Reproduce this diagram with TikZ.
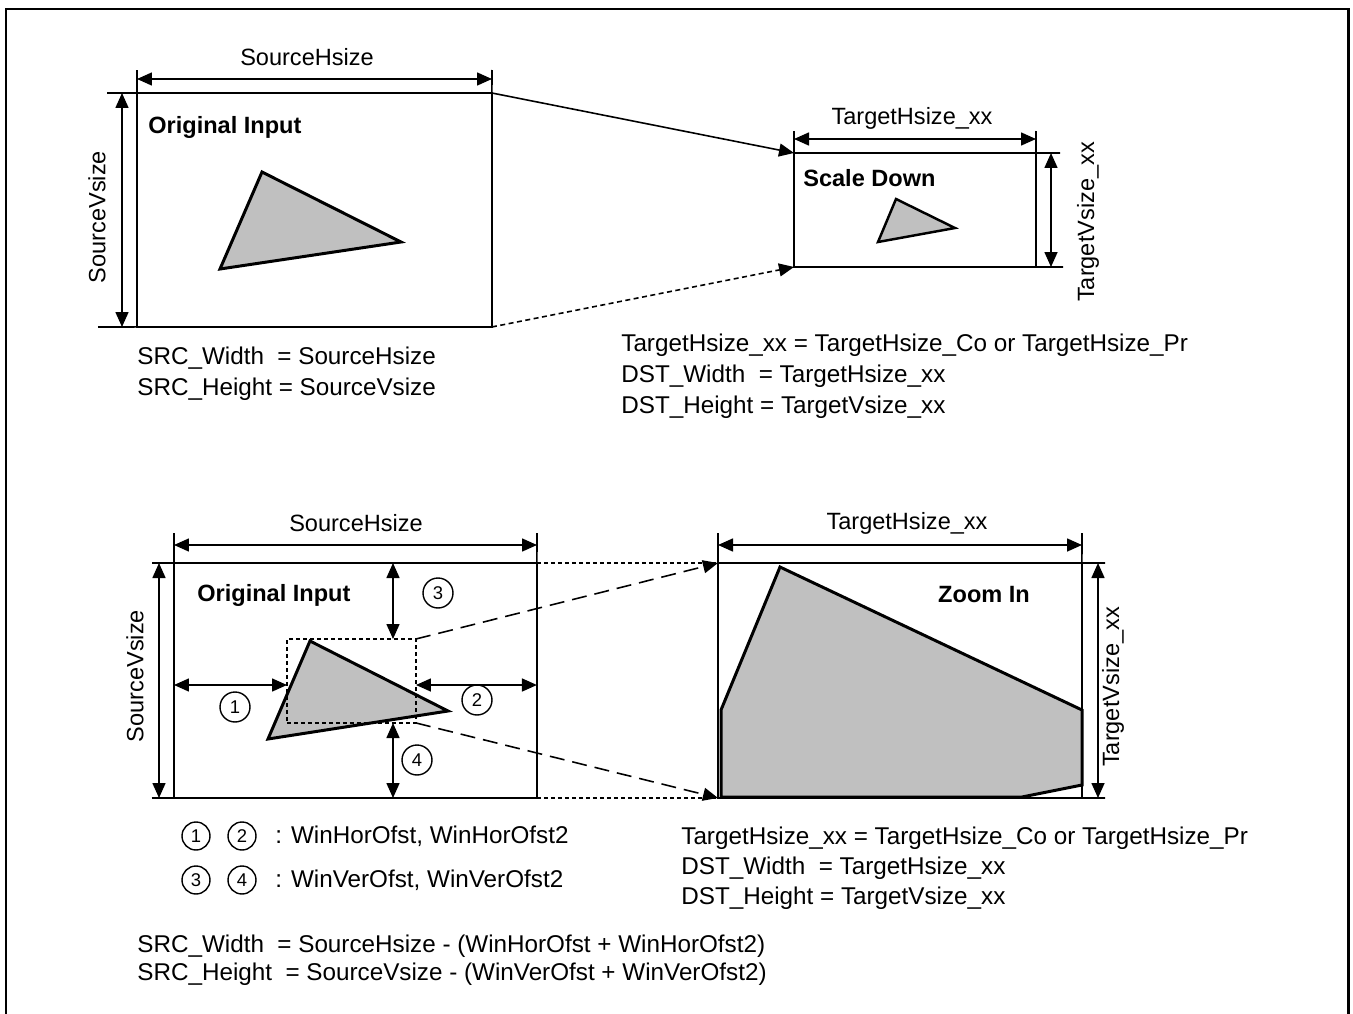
\documentclass[tikz,border=0pt]{standalone}
\usepackage{fontspec}
\setmainfont{Liberation Sans}
\usepackage{xcolor}
\usetikzlibrary{arrows.meta, positioning, calc}
\definecolor{shapegray}{RGB}{192,192,192}

\newcommand{\lblfont}{\fontsize{13.4pt}{16pt}\selectfont}
\newcommand{\notefont}{\fontsize{13.8pt}{17.6pt}\selectfont}
\newcommand{\ttlfont}{\fontsize{13.4pt}{16pt}\selectfont\bfseries}
\newcommand{\tagfont}{\fontsize{10.5pt}{12pt}\selectfont}

\tikzset{
  head/.tip={Triangle[length=0.3cm, width=0.26cm]},
  box/.style={draw, line width=0.9pt, inner sep=0pt, outer sep=0pt, anchor=north west},
  ext/.style={line width=0.9pt},
  dim/.style={line width=0.9pt, {head}-{head}},
  blob/.style={draw, fill=shapegray, line width=1.7pt},
  tag/.style={circle, draw, line width=0.8pt, inner sep=0pt, minimum size=0.6cm, font=\tagfont},
  smalltag/.style={tag, minimum size=0.56cm},
  ttl/.style={font=\ttlfont, anchor=west, inner sep=0pt},
  note/.style={font=\notefont, anchor=west, inner sep=0pt, align=left},
}

\begin{document}
\begin{tikzpicture}[x=0.02cm, y=-0.02cm, every node/.style={font=\lblfont}]
  \useasboundingbox (0,0) rectangle (1353,1014);
  \draw[line width=1.7pt] (6,1040) |- (1348,9) -- (1348,1040);

  % scale down
  \node[box, minimum width=7.1cm, minimum height=4.68cm] (inA) at (137,93) {};
  \node[box, minimum width=4.84cm, minimum height=2.28cm] (outA) at (794,153) {};
  \draw[ext] (107,93) -- (inA.north west) -- (137,70);
  \draw[ext] (98,327) -- (inA.south west);
  \draw[ext] (inA.north east) -- (492,70);
  \draw[ext] (outA.north west) -- (794,131);
  \draw[ext] (1036,131) -- (outA.north east) -- (1060,153);
  \draw[ext] (outA.south east) -- (1063,267);
  \draw[dim] (137,79) -- (492,79);
  \draw[dim] (122,93) -- (122,327);
  \draw[dim] (794,139) -- (1036,139);
  \draw[dim] (1051,153) -- (1051,267);
  \node (hA) at (307,57) {SourceHsize};
  \node[rotate=90] (vA) at (97,217) {SourceVsize};
  \node (hA2) at (912,118) {TargetHsize\_xx};
  \node[rotate=90] (vA2) at (1088,222) {TargetVsize\_xx};
  \node[ttl] (tA) at (148,127) {Original Input};
  \node[ttl] (tA2) at (803,178) {Scale Down};
  \draw[blob] (262,172) -- (401,242) -- (220,269) -- cycle;
  \draw[blob, line width=1.4pt] (896,199) -- (955,228) -- (878,242) -- cycle;
  \draw[line width=0.9pt, -{head}] (inA.north east) -- (outA.north west);
  \draw[line width=0.9pt, dash pattern=on 0.1cm off 0.07cm, -{head}] (inA.south east) -- (outA.south west);
  \node[note] (nA) at (137,374) {SRC\_Width\ \ = SourceHsize\\SRC\_Height = SourceVsize};
  \node[note] (nA2) at (621,376) {TargetHsize\_xx = TargetHsize\_Co or TargetHsize\_Pr\\DST\_Width\ \ = TargetHsize\_xx\\DST\_Height = TargetVsize\_xx};

  % zoom in
  \node[box, minimum width=7.26cm, minimum height=4.7cm] (inB) at (174,563) {};
  \node[box, minimum width=7.28cm, minimum height=4.7cm] (outB) at (718,563) {};
  \draw[blob] (310,641) -- (448,711) -- (268,739) -- cycle;
  \draw[blob] (721,710) -- (780,567) -- (1082,710) -- (1082,785) -- (1022,797) -- (721,797) -- cycle;
  \node[box, line width=0.8pt, dash pattern=on 0.08cm off 0.06cm, minimum width=2.58cm, minimum height=1.68cm] (win) at (287,639) {};
  \draw[ext] (152,563) -- (inB.north west) -- (174,533);
  \draw[ext] (152,798) -- (inB.south west);
  \draw[ext] (inB.north east) -- (537,533);
  \draw[ext] (outB.north west) -- (718,533);
  \draw[ext] (1082,533) -- (outB.north east) -- (1105,563);
  \draw[ext] (outB.south east) -- (1105,798);
  \draw[dim] (174,545) -- (537,545);
  \draw[dim] (159,563) -- (159,798);
  \draw[dim] (718,545) -- (1082,545);
  \draw[dim] (1098,563) -- (1098,798);
  \draw[dim] (inB.west |- 0,685) -- (win.west |- 0,685);
  \draw[dim] (win.east |- 0,685) -- (inB.east |- 0,685);
  \draw[dim] (393,563) -- (393,639);
  \draw[dim] (393,723) -- (393,798);
  \node[tag] (c1) at (235,707) {1};
  \node[tag] (c2) at (477,700) {2};
  \node[tag] (c3) at (438,593) {3};
  \node[tag] (c4) at (417,760) {4};
  \node (hB) at (356,523) {SourceHsize};
  \node[rotate=90] (vB) at (135,676) {SourceVsize};
  \node (hB2) at (907,523) {TargetHsize\_xx};
  \node[rotate=90] (vB2) at (1113,687) {TargetVsize\_xx};
  \node[ttl] (tB) at (197,595) {Original Input};
  \node[font=\ttlfont] (tB2) at (984,595) {Zoom In};
  \draw[line width=0.8pt, dash pattern=on 0.08cm off 0.06cm] (inB.north east) -- (outB.north west);
  \draw[line width=0.8pt, dash pattern=on 0.08cm off 0.06cm] (inB.south east) -- (outB.south west);
  \draw[line width=0.9pt, dash pattern=on 0.3cm off 0.16cm, -{head}] (win.north east) -- (outB.north west);
  \draw[line width=0.9pt, dash pattern=on 0.3cm off 0.16cm, -{head}] (win.south east) -- (outB.south west);

  % legend and notes
  \node[smalltag] (k1) at (196,836) {1};
  \node[smalltag] (k2) at (242,836) {2};
  \node[note] (kA) at (275,836) {: WinHorOfst, WinHorOfst2};
  \node[smalltag] (k3) at (196,880) {3};
  \node[smalltag] (k4) at (242,880) {4};
  \node[note] (kB) at (275,880) {: WinVerOfst, WinVerOfst2};
  \node[note, font=\fontsize{13.8pt}{17pt}\selectfont] (nB2) at (681,868) {TargetHsize\_xx = TargetHsize\_Co or TargetHsize\_Pr\\DST\_Width\ \ = TargetHsize\_xx\\DST\_Height = TargetVsize\_xx};
  \node[note, font=\fontsize{13.8pt}{15.9pt}\selectfont] (nB) at (137,960) {SRC\_Width\ \ = SourceHsize - (WinHorOfst + WinHorOfst2)\\SRC\_Height\ \ = SourceVsize - (WinVerOfst + WinVerOfst2)};
\end{tikzpicture}
\end{document}
